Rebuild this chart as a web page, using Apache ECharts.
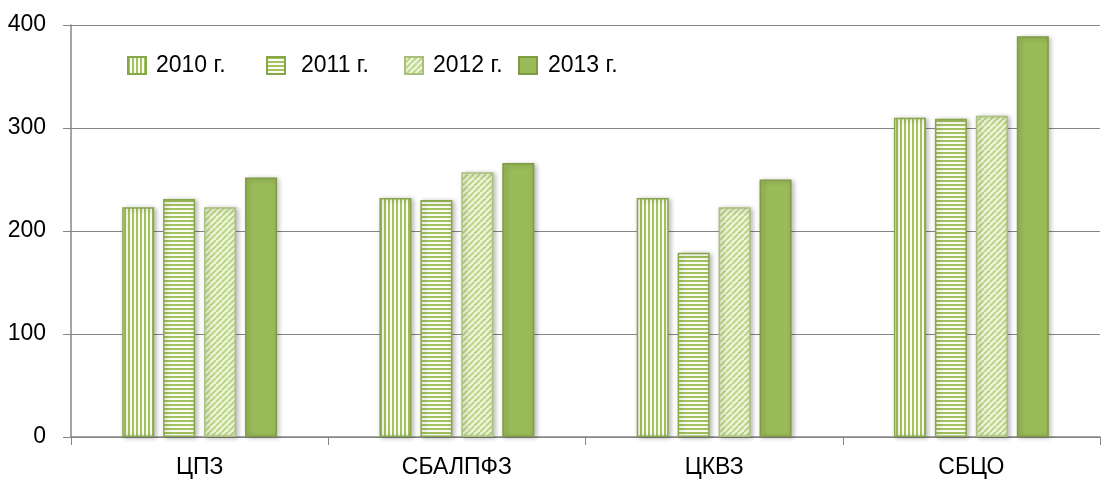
<!DOCTYPE html>
<html>
<head>
<meta charset="utf-8">
<script src="https://cdn.jsdelivr.net/npm/echarts@6/dist/echarts.min.js"></script>
<style>
  html, body { margin: 0; padding: 0; background: #fff; }
  #chart { width: 1102px; height: 485px; }
</style>
</head>
<body>
<div id="chart"></div>
<script>
const categories = ['ЦПЗ', 'СБАЛПФЗ', 'ЦКВЗ', 'СБЦО']
const seriesNames = ['2010 г.', '2011 г.', '2012 г.', '2013 г.']
const values2010 = [223, 232, 232, 310]
const values2011 = [231, 230, 179, 309]
const values2012 = [223, 257, 223, 312]
const values2013 = [252, 266, 250, 389]
const yTicks = [0, 100, 200, 300, 400]

const font = '"Liberation Sans", Arial, sans-serif'

// small canvas tiles for the hatched fills
function makeTile(kind) {
  const c = document.createElement('canvas')
  const ctx = c.getContext('2d')
  if (kind === 'vertical') {
    c.width = 4; c.height = 4
    ctx.fillStyle = '#fbfdf5'
    ctx.fillRect(0, 0, 4, 4)
    ctx.fillStyle = '#a3c35e'
    ctx.fillRect(0, 0, 2, 4)
  } else if (kind === 'horizontal') {
    c.width = 4; c.height = 4
    ctx.fillStyle = '#fbfdf5'
    ctx.fillRect(0, 0, 4, 4)
    ctx.fillStyle = '#a3c35e'
    ctx.fillRect(0, 0, 4, 2)
  } else {
    c.width = 6; c.height = 6
    ctx.fillStyle = '#eef6dc'
    ctx.fillRect(0, 0, 6, 6)
    ctx.strokeStyle = '#bcd68a'
    ctx.lineWidth = 2.2
    ctx.beginPath()
    for (let k = -6; k <= 12; k += 6) {
      ctx.moveTo(k, 6)
      ctx.lineTo(k + 6, 0)
    }
    ctx.stroke()
  }
  return c
}

const fills = [
  { image: makeTile('vertical'), repeat: 'repeat' },
  { image: makeTile('horizontal'), repeat: 'repeat' },
  { image: makeTile('diagonal'), repeat: 'repeat' },
  '#9bbb59',
]
const borders = ['#86a84a', '#86a84a', '#a9c07a', '#7f9c45']
const allValues = [values2010, values2011, values2012, values2013]

const legendLeft = [127, 266, 404, 518]
const legendPad = [5, 11, 5, 6]

const chart = echarts.init(document.getElementById('chart'))
chart.setOption({
  animation: false,
  grid: { left: 71, right: 2, top: 25, bottom: 48 },
  legend: seriesNames.map((name, i) => ({
    data: [name],
    left: legendLeft[i],
    top: 54,
    padding: 0,
    icon: 'rect',
    itemWidth: 18,
    itemHeight: 17,
    textStyle: {
      fontSize: 23,
      color: '#000',
      fontFamily: font,
      padding: [0, 0, 0, legendPad[i]],
    },
  })),
  xAxis: {
    type: 'category',
    data: categories,
    axisLine: { lineStyle: { color: '#868686', width: 1.5 } },
    axisTick: { show: true, length: 8, lineStyle: { color: '#868686' } },
    axisLabel: {
      fontSize: 23,
      color: '#000',
      margin: 19,
      fontFamily: font,
    },
  },
  yAxis: {
    type: 'value',
    min: yTicks[0],
    max: yTicks[yTicks.length - 1],
    interval: 100,
    axisLine: { show: true, lineStyle: { color: '#868686', width: 1.5 } },
    axisTick: { show: true, length: 8, lineStyle: { color: '#868686' } },
    splitLine: { lineStyle: { color: '#868686', width: 1.2 } },
    axisLabel: {
      fontSize: 23,
      color: '#000',
      margin: 25,
      fontFamily: font,
    },
  },
  series: seriesNames.map((name, i) => ({
    name: name,
    type: 'bar',
    data: allValues[i],
    barWidth: 32,
    barGap: '28%',
    itemStyle: {
      color: fills[i],
      borderColor: borders[i],
      borderWidth: 1.5,
      shadowBlur: 5,
      shadowColor: 'rgba(0,0,0,0.28)',
      shadowOffsetX: 2,
      shadowOffsetY: 1,
    },
  })),
})
</script>
</body>
</html>
